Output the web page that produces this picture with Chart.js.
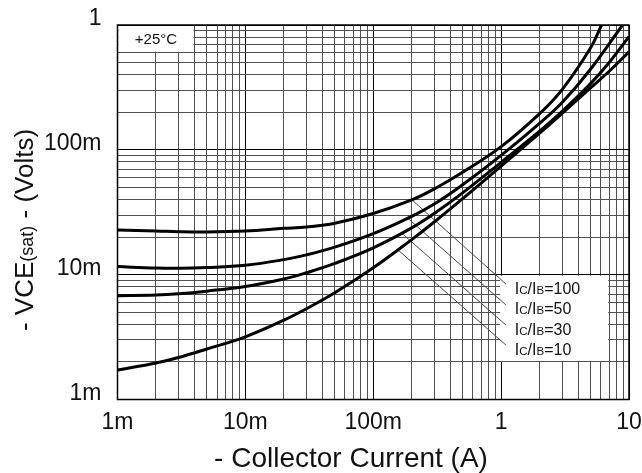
<!DOCTYPE html>
<html>
<head>
<meta charset="utf-8">
<script src="https://cdn.jsdelivr.net/npm/chart.js@4.4.3/dist/chart.umd.min.js"></script>
<style>
  html, body { margin: 0; padding: 0; background: #fff; }
  #wrap { width: 642px; height: 473px; }
</style>
</head>
<body>
<div id="wrap"><canvas id="vce-chart" width="642" height="473"></canvas></div>
<script>
// collector current sample points (A)
const current = [0.001, 0.002, 0.003, 0.005, 0.01, 0.02, 0.03, 0.05, 0.1, 0.2, 0.3, 0.5, 1, 2, 3, 5, 7, 10];

// -VCE(sat) in volts for each forced gain IC/IB
const vce100 = [0.0228, 0.0224, 0.0221, 0.0220, 0.0224, 0.0235, 0.0241, 0.0258, 0.0309, 0.0397, 0.0486, 0.0661, 0.106, 0.195, 0.304, 0.655];
const vce50 = [0.0116, 0.0113, 0.01125, 0.0114, 0.0119, 0.0132, 0.0144, 0.0166, 0.0213, 0.0293, 0.0368, 0.0526, 0.0904, 0.163, 0.239, 0.442];
const vce30 = [0.00679, 0.00687, 0.00703, 0.00738, 0.00804, 0.00923, 0.01035, 0.0123, 0.0164, 0.0237, 0.0309, 0.0452, 0.0794, 0.141, 0.203, 0.339, 0.501, 0.807];
const vce10 = [0.00172, 0.00196, 0.00217, 0.00254, 0.00318, 0.00432, 0.00533, 0.00716, 0.01135, 0.0191, 0.0264, 0.0406, 0.0741, 0.136, 0.196, 0.313, 0.426, 0.610];

// where the two steepest curves leave the top of the graph
const exit100 = { x: 6.1, y: 1 };
const exit50 = { x: 8.9, y: 1 };

// axis decades and their labels
const xTickValues = [0.001, 0.01, 0.1, 1, 10];
const xTickLabels = ['1m', '10m', '100m', '1', '10'];
const yTickValues = [0.001, 0.01, 0.1, 1];
const yTickLabels = ['1m', '10m', '100m', '1'];

// curve labels and their leader lines
const ratioLabels = ['100', '50', '30', '10'];
const leaderFrom = [[0.201, 0.0397], [0.187, 0.0282], [0.168, 0.0214], [0.156, 0.0158]];
const leaderTo = [[1.09, 0.00841], [1.09, 0.00572], [1.09, 0.00395], [1.09, 0.00273]];
const labelAt = [[1.28, 0.00778], [1.28, 0.00538], [1.28, 0.00367], [1.28, 0.00252]];

const FONT = "'Liberation Sans', Arial, Helvetica, sans-serif";
const INK = '#111';

function points(xs, ys, tail) {
    const pts = ys.map((v, i) => ({ x: xs[i], y: v }));
    if (tail) pts.push(tail);
    return pts;
}

function logGrid(lo, hi) {
    const out = [];
    for (let e = lo; e < hi; e++) {
        for (let m = 1; m < 10; m++) out.push(m * Math.pow(10, e));
    }
    out.push(Math.pow(10, hi));
    return out;
}

function isDecade(v) {
    const l = Math.log10(v);
    return Math.abs(l - Math.round(l)) < 1e-9;
}

function labelFor(values, labels) {
    return (v) => {
        const i = values.findIndex(t => Math.abs(t - v) / t < 1e-6);
        return i >= 0 ? labels[i] : '';
    };
}

// draws a row of text pieces with their own sizes on one baseline
function drawRuns(ctx, runs, x, y, align) {
    let total = 0;
    runs.forEach(r => {
        ctx.font = r.size + 'px ' + FONT;
        r.w = ctx.measureText(r.text).width;
        total += r.w;
    });
    let cx = align === 'center' ? x - total / 2 : x;
    ctx.textAlign = 'left';
    runs.forEach(r => {
        ctx.font = r.size + 'px ' + FONT;
        ctx.fillText(r.text, cx, y);
        cx += r.w;
    });
}

const curveStyle = {
    borderColor: '#000',
    borderWidth: 3,
    pointRadius: 0,
    fill: false,
    tension: 0.4,
    clip: 0
};

const datasets = [
    { label: 'IC/IB=100', data: points(current, vce100, exit100), ...curveStyle },
    { label: 'IC/IB=50', data: points(current, vce50, exit50), ...curveStyle },
    { label: 'IC/IB=30', data: points(current, vce30), ...curveStyle },
    { label: 'IC/IB=10', data: points(current, vce10), ...curveStyle }
];

leaderFrom.forEach((p, i) => {
    datasets.push({
        label: 'leader ' + ratioLabels[i],
        data: [{ x: p[0], y: p[1] }, { x: leaderTo[i][0], y: leaderTo[i][1] }],
        borderColor: '#4a4a4a',
        borderWidth: 1,
        pointRadius: 0,
        tension: 0,
        clip: 0
    });
});

const annotate = {
    id: 'annotate',
    beforeDatasetsDraw(chart) {
        const { ctx, chartArea: a } = chart;
        const x = chart.scales.x, y = chart.scales.y;
        ctx.save();
        ctx.fillStyle = '#fff';
        // temperature tag in the upper left corner
        const tr = x.getPixelForValue(0.004), tb = y.getPixelForValue(0.6);
        ctx.fillRect(a.left + 1, a.top + 1, tr - a.left - 2, tb - a.top - 2);
        // panel behind the ratio labels
        const l = x.getPixelForValue(1), r = x.getPixelForValue(7);
        const t = y.getPixelForValue(0.01), b = y.getPixelForValue(0.002);
        ctx.fillRect(l - 1, t + 1, r - l, b - t - 2);
        ctx.restore();
    },
    afterDatasetsDraw(chart) {
        const { ctx, chartArea: a } = chart;
        const x = chart.scales.x, y = chart.scales.y;
        ctx.save();
        ctx.fillStyle = INK;
        ctx.textBaseline = 'middle';
        ctx.font = '15px ' + FONT;
        ctx.textAlign = 'center';
        const tr = x.getPixelForValue(0.004), tb = y.getPixelForValue(0.6);
        ctx.fillText('+25°C', (a.left + tr) / 2, (a.top + tb) / 2 + 1);

        ctx.textBaseline = 'alphabetic';
        labelAt.forEach((p, i) => {
            const px = x.getPixelForValue(p[0]);
            const py = y.getPixelForValue(p[1]) + 6;
            drawRuns(ctx, [
                { text: 'I', size: 16 }, { text: 'C', size: 11.5 },
                { text: '/I', size: 16 }, { text: 'B', size: 11.5 },
                { text: '=' + ratioLabels[i], size: 16 }
            ], px, py, 'left');
        });

        // plot frame
        ctx.strokeStyle = '#000';
        ctx.lineWidth = 1.5;
        ctx.strokeRect(a.left, a.top, a.right - a.left, a.bottom - a.top);
        ctx.restore();
    },
    afterDraw(chart) {
        const { ctx } = chart;
        ctx.save();
        ctx.fillStyle = INK;
        ctx.textBaseline = 'alphabetic';
        drawRuns(ctx, [{ text: '- Collector Current (A)', size: 28 }], 351, 467, 'center');

        ctx.translate(33, 230);
        ctx.rotate(-Math.PI / 2);
        drawRuns(ctx, [
            { text: '- VCE', size: 26 },
            { text: '(sat)', size: 18 },
            { text: ' - (Volts)', size: 26 }
        ], 0, 0, 'center');
        ctx.restore();
    }
};

const gridColor = (c) => (c.tick && isDecade(c.tick.value)) ? '#000' : '#505050';

new Chart(document.getElementById('vce-chart'), {
    type: 'line',
    data: { datasets },
    plugins: [annotate],
    options: {
        responsive: false,
        devicePixelRatio: 1,
        animation: false,
        layout: { padding: { top: 25, right: 13, left: 0, bottom: 0 } },
        plugins: { legend: { display: false }, tooltip: { enabled: false } },
        scales: {
            x: {
                type: 'logarithmic',
                min: 0.001,
                max: 10,
                afterBuildTicks: (s) => { s.ticks = logGrid(-3, 1).map(v => ({ value: v })); },
                afterFit: (s) => { s.height = 73.5; s.paddingLeft = 0; s.paddingRight = 0; },
                border: { display: false },
                grid: { color: gridColor, lineWidth: 1, drawTicks: false },
                ticks: {
                    autoSkip: false,
                    maxRotation: 0,
                    padding: 9,
                    color: INK,
                    font: { family: FONT, size: 23 },
                    callback: labelFor(xTickValues, xTickLabels)
                }
            },
            y: {
                type: 'logarithmic',
                min: 0.001,
                max: 1,
                afterBuildTicks: (s) => { s.ticks = logGrid(-3, 0).map(v => ({ value: v })); },
                afterFit: (s) => { s.width = 117.5; s.paddingTop = 0; s.paddingBottom = 0; },
                border: { display: false },
                grid: { color: gridColor, lineWidth: 1, drawTicks: false },
                ticks: {
                    autoSkip: false,
                    padding: 16,
                    labelOffset: -6,
                    color: INK,
                    font: { family: FONT, size: 23 },
                    callback: labelFor(yTickValues, yTickLabels)
                }
            }
        }
    }
});
</script>
</body>
</html>
